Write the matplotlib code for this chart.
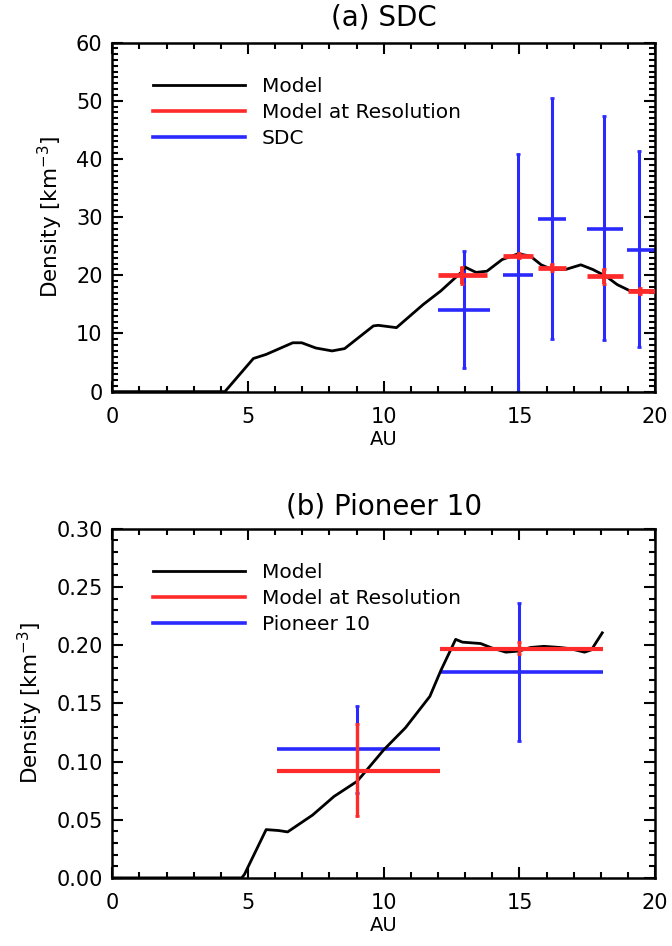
import numpy as np
import matplotlib
matplotlib.use("Agg")
import matplotlib.pyplot as plt
from matplotlib.ticker import MultipleLocator, FormatStrFormatter

# ---- panel (a) SDC ----
a_model_au = [0.0, 4.15, 5.2, 5.67, 6.65, 6.98, 7.5, 8.1, 8.56, 9.62, 9.8, 10.47,
              11.46, 12.1, 12.9, 13.0, 13.4, 13.8, 14.36, 14.95, 15.4, 15.8, 16.2,
              16.7, 17.26, 17.7, 18.2, 18.6, 19.04, 19.9]
a_model_val = [0.0, 0.0, 5.7, 6.4, 8.4, 8.4, 7.5, 7.0, 7.4, 11.3, 11.4, 11.0,
               15.0, 17.3, 20.7, 21.4, 20.5, 20.7, 22.7, 23.7, 23.3, 21.8, 21.0,
               21.0, 21.8, 21.0, 19.8, 18.4, 17.4, 17.3]

a_res_x = [12.9, 15.0, 16.2, 18.1, 19.45]
a_res_xlo = [12.0, 14.4, 15.7, 17.5, 19.0]
a_res_xhi = [13.8, 15.5, 16.7, 18.8, 20.0]
a_res_y = [20.0, 23.4, 21.3, 19.8, 17.3]
a_res_lo = [18.5, 23.0, 20.7, 18.5, 16.8]
a_res_hi = [21.5, 23.8, 21.9, 21.1, 17.8]

a_sdc_x = [12.94, 14.96, 16.2, 18.1, 19.4]
a_sdc_xlo = [12.0, 14.4, 15.7, 17.5, 18.95]
a_sdc_xhi = [13.9, 15.5, 16.7, 18.8, 20.0]
a_sdc_y = [14.0, 20.0, 29.7, 28.0, 24.4]
a_sdc_lo = [4.0, 0.0, 9.0, 8.8, 7.7]
a_sdc_hi = [24.2, 40.8, 50.4, 47.3, 41.3]

# ---- panel (b) Pioneer 10 ----
b_model_au = [0.0, 4.77, 4.87, 5.67, 6.13, 6.46, 7.38, 8.17, 9.02, 9.35, 10.0,
              10.8, 11.7, 12.1, 12.65, 12.9, 13.57, 13.97, 14.5, 15.0, 15.4,
              15.9, 16.5, 16.86, 17.4, 17.65, 18.05]
b_model_val = [0.0, 0.0, 0.003, 0.0415, 0.0407, 0.0395, 0.054, 0.070, 0.083,
               0.092, 0.110, 0.129, 0.156, 0.178, 0.205, 0.2026, 0.2014, 0.1977,
               0.194, 0.195, 0.198, 0.199, 0.198, 0.197, 0.194, 0.196, 0.2106]

b_res_x = [9.0, 15.0]
b_res_xlo = [6.06, 12.06]
b_res_xhi = [12.06, 18.08]
b_res_y = [0.0917, 0.197]
b_res_lo = [0.053, 0.192]
b_res_hi = [0.132, 0.203]

b_p10_x = [9.0, 15.0]
b_p10_xlo = [6.06, 12.06]
b_p10_xhi = [12.06, 18.08]
b_p10_y = [0.111, 0.177]
b_p10_lo = [0.073, 0.118]
b_p10_hi = [0.1476, 0.236]

RED = "#ff2a2a"
BLUE = "#2a2aff"

plt.rcParams["font.family"] = ["DejaVu Sans"]

fig = plt.figure(figsize=(6.72, 9.46), dpi=100)
ax1 = fig.add_axes([0.167, 0.586, 0.808, 0.369])
ax2 = fig.add_axes([0.167, 0.072, 0.808, 0.369])


def bars(ax, x, xlo, xhi, y, ylo, yhi, color, lwh, lwv, z):
    x = np.array(x); y = np.array(y)
    ax.errorbar(x, y, xerr=[x - np.array(xlo), np.array(xhi) - x], fmt="none",
                ecolor=color, elinewidth=lwh, capsize=0, zorder=z)
    ax.errorbar(x, y, yerr=[y - np.array(ylo), np.array(yhi) - y], fmt="none",
                ecolor=color, elinewidth=lwv, capsize=1.5, capthick=2, zorder=z)


def panel(ax, mx, my, dlabel):
    ax.plot(mx, my, color="black", lw=2, zorder=3)
    ax.plot([], [], color="black", lw=2, label="Model")
    ax.plot([], [], color=RED, lw=2.6, label="Model at Resolution")
    ax.plot([], [], color=BLUE, lw=2.6, label=dlabel)
    ax.legend(loc="upper left", bbox_to_anchor=(0.06, 0.925), frameon=False,
              fontsize=14.5, handlelength=4.6, handletextpad=0.8,
              labelspacing=0.35, borderaxespad=0)
    ax.set_xlim(0, 20)
    ax.xaxis.set_major_locator(MultipleLocator(5))
    ax.xaxis.set_minor_locator(MultipleLocator(1))
    ax.tick_params(which="both", direction="in", top=True, right=True,
                   labelsize=15, width=1.5)
    ax.tick_params(axis="x", which="both", pad=11)
    ax.tick_params(axis="y", which="both", pad=7)
    ax.tick_params(which="major", length=8)
    ax.tick_params(which="minor", length=4)
    for s in ax.spines.values():
        s.set_linewidth(1.8)
    ax.set_xlabel("AU", fontsize=14, labelpad=2)
    ax.set_ylabel("Density [km$^{-3}$]", fontsize=15.5, labelpad=8)


bars(ax1, a_sdc_x, a_sdc_xlo, a_sdc_xhi, a_sdc_y, a_sdc_lo, a_sdc_hi, BLUE, 2.6, 2.2, 2)
bars(ax1, a_res_x, a_res_xlo, a_res_xhi, a_res_y, a_res_lo, a_res_hi, RED, 3.4, 2.8, 4)
panel(ax1, a_model_au, a_model_val, "SDC")
ax1.set_ylim(0, 60)
ax1.yaxis.set_major_locator(MultipleLocator(10))
ax1.yaxis.set_minor_locator(MultipleLocator(1))
ax1.set_title("(a) SDC", fontsize=20, pad=12)

bars(ax2, b_p10_x, b_p10_xlo, b_p10_xhi, b_p10_y, b_p10_lo, b_p10_hi, BLUE, 2.6, 2.2, 2)
bars(ax2, b_res_x, b_res_xlo, b_res_xhi, b_res_y, b_res_lo, b_res_hi, RED, 3.0, 2.4, 4)
panel(ax2, b_model_au, b_model_val, "Pioneer 10")
ax2.set_ylim(0, 0.30)
ax2.yaxis.set_major_locator(MultipleLocator(0.05))
ax2.yaxis.set_minor_locator(MultipleLocator(0.01))
ax2.yaxis.set_major_formatter(FormatStrFormatter("%.2f"))
ax2.set_title("(b) Pioneer 10", fontsize=20, pad=10)

fig.savefig("out.png", dpi=100)
